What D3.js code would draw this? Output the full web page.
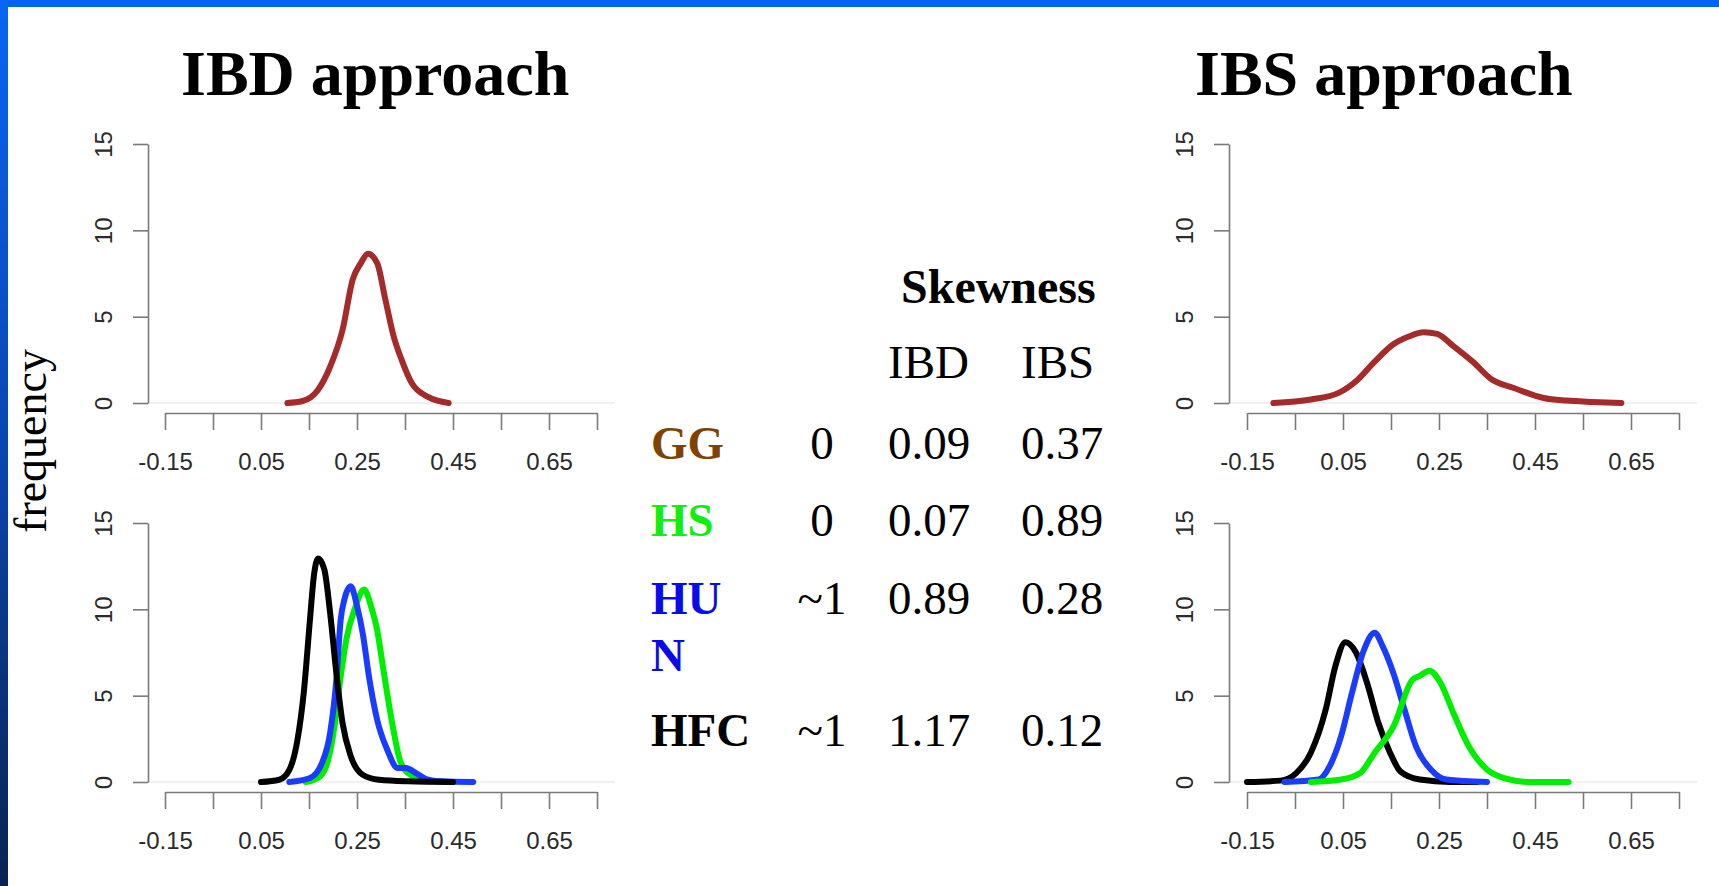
<!DOCTYPE html>
<html>
<head>
<meta charset="utf-8">
<script src="https://cdn.jsdelivr.net/npm/d3@7"></script>
<style>
	html, body { margin: 0; padding: 0; background: #fff; }
	svg { display: block; }
</style>
</head>
<body>
<div id="chart"></div>
<script>
// axis ticks (same for all four panels)
var xTicks = [-0.15, -0.05, 0.05, 0.15, 0.25, 0.35, 0.45, 0.55, 0.65, 0.75];
var xTickLabels = ["-0.15", "", "0.05", "", "0.25", "", "0.45", "", "0.65", ""];
var yTicks = [0, 5, 10, 15];

// density curves: [value, frequency]
var ibdGG = [[0.105, 0], [0.135, 0.1], [0.169, 0.77], [0.194, 2.1], [0.22, 4.25], [0.241, 7.15], [0.258, 8.1], [0.273, 8.65], [0.292, 8.1], [0.309, 6.0], [0.326, 3.9], [0.343, 2.5], [0.364, 1.16], [0.398, 0.35], [0.441, 0]];
var ibsGG = [[-0.095, 0], [-0.017, 0.2], [0.042, 0.6], [0.077, 1.26], [0.116, 2.4], [0.155, 3.4], [0.187, 3.85], [0.218, 4.1], [0.246, 4.0], [0.28, 3.3], [0.32, 2.4], [0.36, 1.36], [0.406, 0.87], [0.468, 0.29], [0.515, 0.14], [0.57, 0.06], [0.63, 0]];

var ibdHS = [[0.143, 0], [0.173, 0.33], [0.19, 1.3], [0.203, 3.2], [0.216, 6.1], [0.228, 8.3], [0.245, 10.0], [0.265, 11.15], [0.279, 10.2], [0.292, 8.8], [0.305, 6.5], [0.322, 3.6], [0.339, 1.3], [0.356, 0.52], [0.39, 0.13], [0.441, 0]];
var ibdHUN = [[0.109, 0], [0.152, 0.23], [0.177, 1.1], [0.194, 2.84], [0.207, 5.9], [0.216, 9.4], [0.224, 10.6], [0.237, 11.33], [0.25, 10.2], [0.262, 8.6], [0.275, 6.1], [0.292, 3.6], [0.313, 1.87], [0.335, 0.81], [0.352, 0.81], [0.373, 0.52], [0.394, 0.17], [0.424, 0.04], [0.492, 0]];
var ibdHFC = [[0.05, 0], [0.088, 0.13], [0.109, 0.7], [0.126, 2.45], [0.139, 5.15], [0.152, 9.4], [0.16, 11.9], [0.169, 12.95], [0.182, 12.3], [0.194, 9.8], [0.207, 6.3], [0.22, 3.4], [0.237, 1.5], [0.262, 0.42], [0.296, 0.13], [0.356, 0.04], [0.45, 0]];

var ibsHS = [[-0.017, 0], [0.046, 0.14], [0.085, 0.5], [0.116, 1.7], [0.155, 3.2], [0.194, 5.9], [0.21, 6.15], [0.23, 6.45], [0.253, 5.75], [0.28, 4.0], [0.312, 2.07], [0.35, 0.72], [0.39, 0.19], [0.437, 0], [0.52, 0]];
var ibsHUN = [[-0.072, 0], [-0.001, 0.14], [0.022, 0.9], [0.046, 2.65], [0.069, 5.2], [0.093, 7.6], [0.116, 8.65], [0.132, 7.9], [0.155, 6.3], [0.178, 4.2], [0.202, 2.07], [0.233, 0.72], [0.265, 0.14], [0.35, 0]];
var ibsHFC = [[-0.15, 0], [-0.08, 0.08], [-0.048, 0.5], [-0.017, 1.7], [0.014, 4.2], [0.034, 6.7], [0.055, 8.1], [0.077, 7.5], [0.1, 5.75], [0.124, 3.4], [0.148, 1.7], [0.17, 0.6], [0.21, 0.14], [0.273, 0], [0.33, 0]];

// skewness table
var groups = ["GG", "HS", "HUN", "HFC"];
var expected = ["0", "0", "~1", "~1"];
var skewIBD = ["0.09", "0.07", "0.89", "1.17"];
var skewIBS = ["0.37", "0.89", "0.28", "0.12"];

var groupColor = {GG: "#7f4200", HS: "#11ee11", HUN: "#0a0aee", HFC: "#000000"};
var lineColor = {GG: "#a52a2a", HS: "#00ee00", HUN: "#1a3cff", HFC: "#000000"};

var W = 1719, H = 886;
var svg = d3.select("#chart").append("svg")
	.attr("width", W)
	.attr("height", H);

// frame of the slide
var defs = svg.append("defs");
var grad = defs.append("linearGradient")
	.attr("id", "sideGrad")
	.attr("x1", 0).attr("y1", 0).attr("x2", 0).attr("y2", 1);
grad.append("stop").attr("offset", "0%").attr("stop-color", "#0866f4");
grad.append("stop").attr("offset", "50%").attr("stop-color", "#0a46b0");
grad.append("stop").attr("offset", "100%").attr("stop-color", "#082450");

svg.append("rect").attr("x", 0).attr("y", 0).attr("width", W).attr("height", 7).attr("fill", "#0664f2");
svg.append("rect").attr("x", 0).attr("y", 0).attr("width", 8).attr("height", H).attr("fill", "url(#sideGrad)");

var serif = "'Liberation Serif', 'Times New Roman', Times, serif";
var sans = "'Liberation Sans', Arial, Helvetica, sans-serif";

// titles
svg.append("text").attr("x", 181).attr("y", 95)
	.style("font-family", serif).style("font-weight", "bold").style("font-size", "64px")
	.text("IBD approach");
svg.append("text").attr("x", 1195).attr("y", 95)
	.style("font-family", serif).style("font-weight", "bold").style("font-size", "64px")
	.text("IBS approach");

// y label
svg.append("text")
	.attr("transform", "translate(46,441) rotate(-90)")
	.attr("text-anchor", "middle")
	.style("font-family", serif).style("font-size", "46px")
	.text("frequency");

// panel: left = x of -0.15 tick, zeroY = y of 0 on the frequency scale
function drawPanel(left, zeroY, plotL, plotR, series) {
	var x = d3.scaleLinear().domain([-0.15, 0.75]).range([left, left + 432]);
	var y = d3.scaleLinear().domain([0, 15]).range([zeroY, zeroY - 259]);
	var g = svg.append("g");

	// faint zero line
	g.append("line")
		.attr("x1", plotL).attr("x2", plotR)
		.attr("y1", y(0)).attr("y2", y(0))
		.attr("stroke", "#ececec").attr("stroke-width", 1.5);

	var xAxis = d3.axisBottom(x)
		.tickValues(xTicks)
		.tickFormat(function(d, i) { return xTickLabels[i]; })
		.tickSize(17)
		.tickSizeOuter(0)
		.tickPadding(23);
	var gx = g.append("g").attr("transform", "translate(0," + (zeroY + 10) + ")").call(xAxis);

	var yAxis = d3.axisLeft(y)
		.tickValues(yTicks)
		.tickSize(15)
		.tickSizeOuter(0);
	var gy = g.append("g").attr("transform", "translate(" + plotL + ",0)").call(yAxis);
	gy.selectAll(".tick text")
		.attr("x", 0).attr("y", -36).attr("dy", 0)
		.attr("transform", "rotate(-90)")
		.attr("text-anchor", "middle");

	[gx, gy].forEach(function(a) {
		a.select(".domain").attr("stroke", "#7a7a7a").attr("stroke-width", 1.6);
		a.selectAll(".tick line").attr("stroke", "#7a7a7a").attr("stroke-width", 1.6);
		a.selectAll(".tick text")
			.attr("fill", "#2a2a2a")
			.style("font-family", sans)
			.style("font-size", "24px");
	});

	var line = d3.line()
		.x(function(d) { return x(d[0]); })
		.y(function(d) { return y(d[1]); })
		.curve(d3.curveMonotoneX);

	series.forEach(function(s) {
		g.append("path")
			.datum(s.data)
			.attr("d", line)
			.attr("fill", "none")
			.attr("stroke", lineColor[s.key])
			.attr("stroke-width", 6)
			.attr("stroke-linecap", "round")
			.attr("stroke-linejoin", "round");
	});
}

drawPanel(165, 403, 148, 615, [{key: "GG", data: ibdGG}]);
drawPanel(165, 782, 148, 615, [{key: "HS", data: ibdHS}, {key: "HUN", data: ibdHUN}, {key: "HFC", data: ibdHFC}]);
drawPanel(1247, 403, 1229, 1697, [{key: "GG", data: ibsGG}]);
drawPanel(1247, 782, 1229, 1697, [{key: "HFC", data: ibsHFC}, {key: "HUN", data: ibsHUN}, {key: "HS", data: ibsHS}]);

// skewness table
var tbl = svg.append("g").style("font-family", serif).style("font-size", "47px");
tbl.append("text").attr("x", 901).attr("y", 303).style("font-weight", "bold").style("font-size", "48px").text("Skewness");
tbl.append("text").attr("x", 888).attr("y", 378).text("IBD");
tbl.append("text").attr("x", 1021).attr("y", 378).text("IBS");

var rowY = [459, 536, 614, 746];
groups.forEach(function(grp, i) {
	var t = tbl.append("text").attr("x", 651).attr("y", rowY[i])
		.style("font-weight", "bold")
		.attr("fill", groupColor[grp]);
	if (grp === "HUN") {
		t.text("HU");
		tbl.append("text").attr("x", 651).attr("y", 671)
			.style("font-weight", "bold")
			.attr("fill", groupColor[grp])
			.text("N");
	} else {
		t.text(grp);
	}
	tbl.append("text").attr("x", 822).attr("y", rowY[i]).attr("text-anchor", "middle").text(expected[i]);
	tbl.append("text").attr("x", 888).attr("y", rowY[i]).text(skewIBD[i]);
	tbl.append("text").attr("x", 1021).attr("y", rowY[i]).text(skewIBS[i]);
});
</script>
</body>
</html>
